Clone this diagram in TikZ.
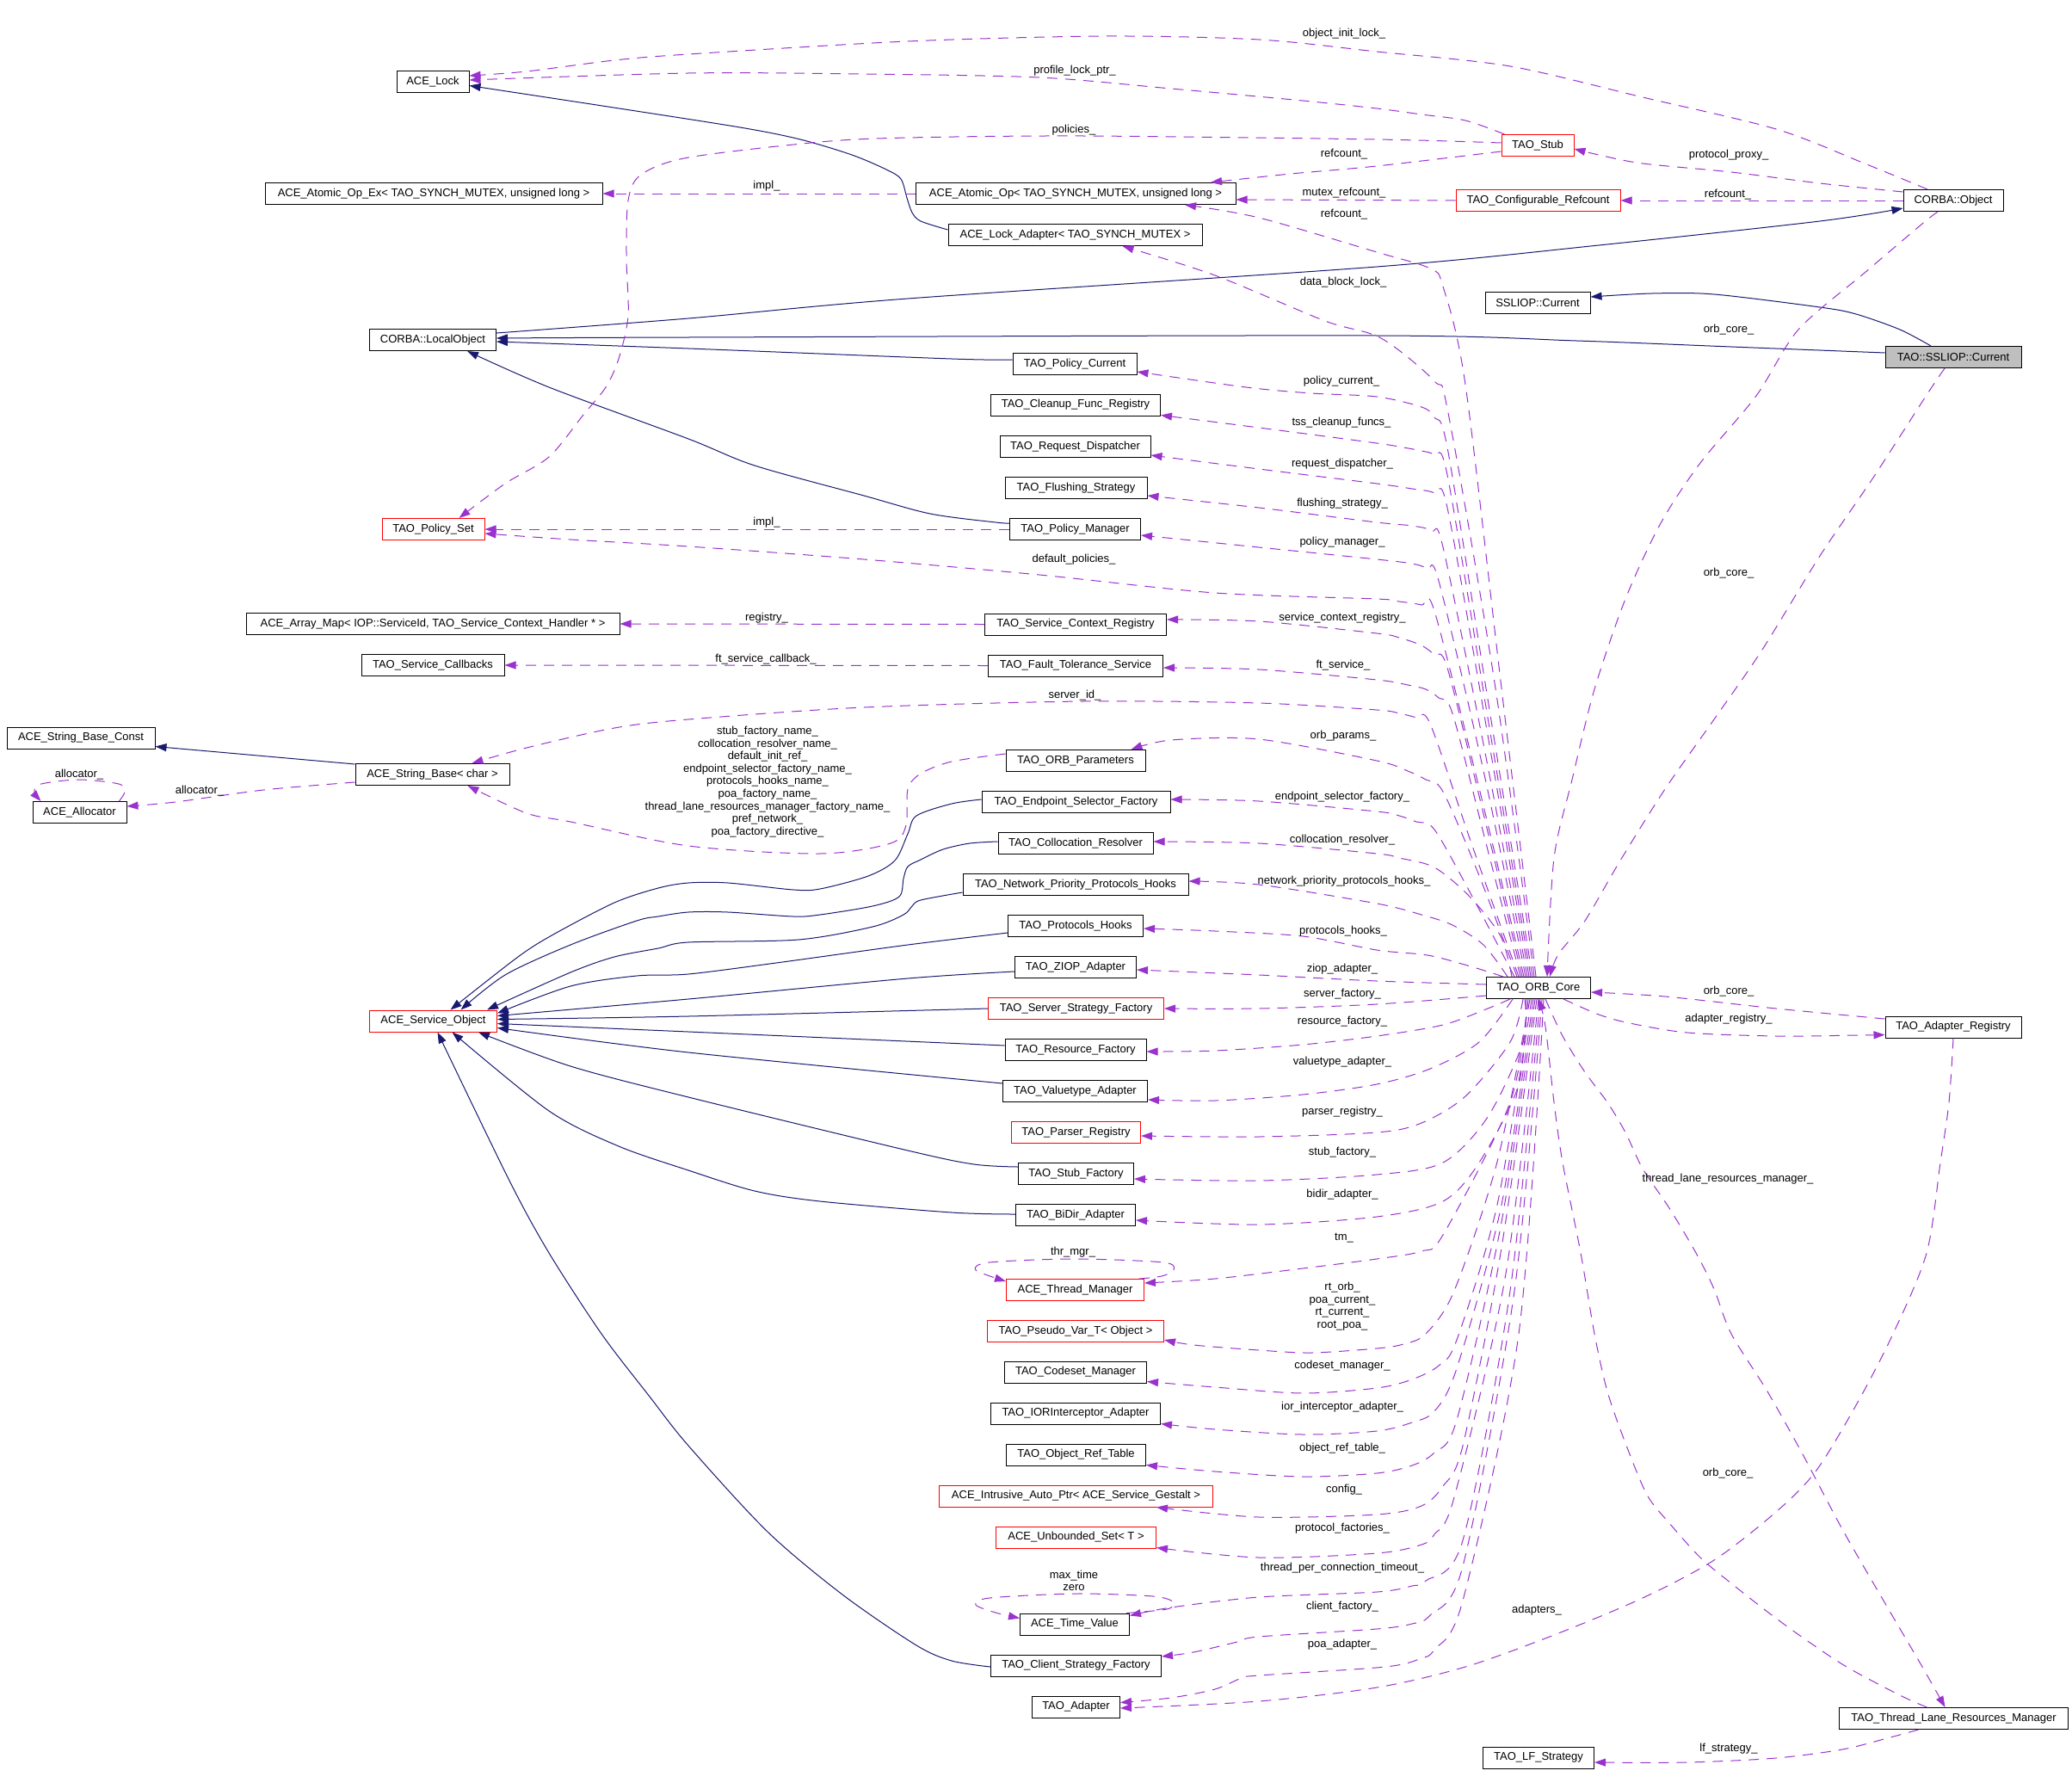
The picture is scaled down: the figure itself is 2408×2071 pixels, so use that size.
\documentclass[tikz,border=0pt]{standalone}
\usepackage{fontspec}
\setmainfont{Liberation Sans}
\usetikzlibrary{arrows.meta,calc}
\definecolor{memcol}{HTML}{9A32CD}
\definecolor{inhcol}{HTML}{191970}
\definecolor{focusgray}{HTML}{BFBFBF}
\begin{document}
\begin{tikzpicture}[x=1pt,y=-1pt,
  box/.style={draw=black, line width=1pt, minimum height=25pt, inner xsep=2pt, inner ysep=0pt, font=\fontsize{13}{15}\selectfont},
  redbox/.style={box, draw=red},
  inh/.style={draw=inhcol, line width=1pt, -{Triangle[length=13pt,width=9pt]}},
  mem/.style={draw=memcol, line width=1pt, dash pattern=on 12pt off 9pt, -{Triangle[length=13pt,width=9pt]}},
  lbl/.style={font=\fontsize{13}{14.6}\selectfont, inner sep=0pt, align=center, text=black}]
\fill[white] (0,0) rectangle (2408,2071);
\useasboundingbox (0,0) rectangle (2408,2071);

% ---------- nodes ----------
\node[box, minimum width=84pt] (lock) at (503,95.5) {ACE\_Lock};
\node[box, minimum width=392pt] (atomex) at (504,225) {ACE\_Atomic\_Op\_Ex< TAO\_SYNCH\_MUTEX, unsigned long >};
\node[box, minimum width=147pt] (localobj) at (503,395) {CORBA::LocalObject};
\node[redbox, minimum width=119pt] (pset) at (503.5,615) {TAO\_Policy\_Set};
\node[box, minimum width=434pt] (arrmap) at (503,725) {ACE\_Array\_Map< IOP::ServiceId, TAO\_Service\_Context\_Handler * >};
\node[box, minimum width=166pt] (svccb) at (503,773) {TAO\_Service\_Callbacks};
\node[box, minimum width=179pt] (strbase) at (502.5,900) {ACE\_String\_Base< char >};
\node[redbox, minimum width=148pt] (svcobj) at (503.5,1186.5) {ACE\_Service\_Object};
\node[box, minimum width=172pt] (strconst) at (94,857.5) {ACE\_String\_Base\_Const};
\node[box, minimum width=109pt] (alloc) at (92.5,944) {ACE\_Allocator};

\node[box, minimum width=372pt] (atomop) at (1250,225) {ACE\_Atomic\_Op< TAO\_SYNCH\_MUTEX, unsigned long >};
\node[box, minimum width=295pt] (lockad) at (1249.5,273) {ACE\_Lock\_Adapter< TAO\_SYNCH\_MUTEX >};
\node[box, minimum width=144pt] (pcur) at (1249,423) {TAO\_Policy\_Current};
\node[box, minimum width=197pt] (cleanup) at (1250,470.5) {TAO\_Cleanup\_Func\_Registry};
\node[box, minimum width=175pt] (reqd) at (1249.5,519) {TAO\_Request\_Dispatcher};
\node[box, minimum width=165pt] (flush) at (1250.5,567) {TAO\_Flushing\_Strategy};
\node[box, minimum width=152pt] (pman) at (1249.5,615) {TAO\_Policy\_Manager};
\node[box, minimum width=211pt] (scr) at (1250,725.5) {TAO\_Service\_Context\_Registry};
\node[box, minimum width=203pt] (fts) at (1250,773.5) {TAO\_Fault\_Tolerance\_Service};
\node[box, minimum width=162pt] (orbp) at (1250,884) {TAO\_ORB\_Parameters};
\node[box, minimum width=219pt] (esf) at (1250.5,932) {TAO\_Endpoint\_Selector\_Factory};
\node[box, minimum width=180pt] (coll) at (1250,980) {TAO\_Collocation\_Resolver};
\node[box, minimum width=262pt] (npph) at (1250,1028) {TAO\_Network\_Priority\_Protocols\_Hooks};
\node[box, minimum width=157pt] (phooks) at (1250,1076) {TAO\_Protocols\_Hooks};
\node[box, minimum width=141pt] (ziop) at (1250,1124) {TAO\_ZIOP\_Adapter};
\node[redbox, minimum width=204pt] (ssf) at (1250.5,1172) {TAO\_Server\_Strategy\_Factory};
\node[box, minimum width=164pt] (rf) at (1250,1220) {TAO\_Resource\_Factory};
\node[box, minimum width=168pt] (vta) at (1249.5,1268) {TAO\_Valuetype\_Adapter};
\node[redbox, minimum width=150pt] (preg) at (1250.5,1316) {TAO\_Parser\_Registry};
\node[box, minimum width=134pt] (stubf) at (1250.5,1364) {TAO\_Stub\_Factory};
\node[box, minimum width=139pt] (bidir) at (1250,1412) {TAO\_BiDir\_Adapter};
\node[redbox, minimum width=160pt] (thrmgr) at (1249.5,1499) {ACE\_Thread\_Manager};
\node[redbox, minimum width=205pt] (pvar) at (1250,1547) {TAO\_Pseudo\_Var\_T< Object >};
\node[box, minimum width=165pt] (codeset) at (1250,1594.5) {TAO\_Codeset\_Manager};
\node[box, minimum width=197pt] (iorint) at (1250,1642.5) {TAO\_IORInterceptor\_Adapter};
\node[box, minimum width=162pt] (ort) at (1250.5,1690.5) {TAO\_Object\_Ref\_Table};
\node[redbox, minimum width=318pt] (iap) at (1250.5,1738.5) {ACE\_Intrusive\_Auto\_Ptr< ACE\_Service\_Gestalt >};
\node[redbox, minimum width=186pt] (uset) at (1250.5,1786.5) {ACE\_Unbounded\_Set< T >};
\node[box, minimum width=127pt] (tv) at (1249,1887.5) {ACE\_Time\_Value};
\node[box, minimum width=198pt] (csf) at (1250.5,1935.5) {TAO\_Client\_Strategy\_Factory};
\node[box, minimum width=102pt] (adapter) at (1250.5,1983.5) {TAO\_Adapter};

\node[redbox, minimum width=84pt] (stub) at (1787,169) {TAO\_Stub};
\node[redbox, minimum width=191pt] (cref) at (1787.5,233) {TAO\_Configurable\_Refcount};
\node[box, minimum width=122pt] (sslcur) at (1787,352) {SSLIOP::Current};
\node[box, minimum width=121pt] (orbcore) at (1788,1148) {TAO\_ORB\_Core};
\node[box, minimum width=129pt] (lfs) at (1788,2042.5) {TAO\_LF\_Strategy};

\node[box, minimum width=116pt] (cobj) at (2270,233) {CORBA::Object};
\node[box, minimum width=158pt, fill=focusgray] (taossl) at (2270,415) {TAO::SSLIOP::Current};
\node[box, minimum width=158pt] (areg) at (2270,1193.5) {TAO\_Adapter\_Registry};
\node[box, minimum width=266pt] (tlrm) at (2270.5,1997) {TAO\_Thread\_Lane\_Resources\_Manager};

% ---------- inheritance ----------
\draw[inh] plot[smooth] coordinates {($(lockad.west)+(0,-6)$) (1070,257) (1060,247) (1054,230) (1047,208) (1030,197) (990,180) (930,162) (860,148) (700,123) ($(lock.east)+(0,4)$)};
\draw[inh] plot[smooth] coordinates {($(localobj.east)+(0,-8)$) (800,370) (1055,347) (1600,310) (1858,285) (2115,257) ($(cobj.west)+(0,9)$)};
\draw[inh] plot[smooth] coordinates {($(taossl.west)+(0,-5)$) (2012,403) (1832,396) (1600,390) (800,392) ($(localobj.east)+(0,-2)$)};
\draw[inh] plot[smooth] coordinates {($(taossl.north)+(-26,0)$) (2208,383) (2157,365) (2115,357) (1992,342) (1920,341) ($(sslcur.east)+(0,-7)$)};
\draw[inh] plot[smooth] coordinates {($(pcur.west)+(0,-5)$) (1106,417) (800,405) ($(localobj.east)+(0,2)$)};
\draw[inh] plot[smooth] coordinates {($(pman.west)+(0,-7)$) (1157,607) (1081,597) (1004,576) (877,541) (800,510) (638,450) ($(localobj.south east)+(-34,0)$)};
\draw[inh] ($(strbase.north west)+(0,1)$) -- ($(strconst.east)+(0,10)$);

\draw[inh] plot[smooth] coordinates {($(esf.west)+(0,-3)$) (1106,934) (1065,948) (1055,969) (1040,1000) (1009,1018) (953,1033) (922,1034) (846,1026) (800,1026) (765,1032) (714,1049) (643,1086) (602,1112) ($(svcobj.north)+(20,0)$)};
\draw[inh] plot[smooth] coordinates {($(coll.west)+(0,-2)$) (1127,980) (1096,987) (1070,999) (1055,1007) (1050,1021) (1045,1042) (1014,1053) (953,1063) (922,1065) (846,1060) (800,1060) (765,1065) (740,1070) (663,1098) (587,1133) ($(svcobj.north)+(32,0)$)};
\draw[inh] plot[smooth] coordinates {($(npph.west)+(0,9)$) (1070,1046) (1060,1053) (1050,1063) (1014,1077) (928,1092) (800,1095) (765,1102) (714,1112) (663,1130) ($(svcobj.north east)+(-12,0)$)};
\draw[inh] plot[smooth] coordinates {($(phooks.west)+(0,8)$) (1055,1098) (902,1119) (800,1132) (740,1134) (663,1146) ($(svcobj.east)+(0,-9)$)};
\draw[inh] plot[smooth] coordinates {($(ziop.west)+(0,5)$) (1055,1137) (800,1161) ($(svcobj.east)+(0,-6)$)};
\draw[inh] plot[smooth] coordinates {(ssf.west) (800,1181) ($(svcobj.east)+(0,-2)$)};
\draw[inh] plot[smooth] coordinates {($(rf.west)+(0,-5)$) (800,1199) ($(svcobj.east)+(0,3)$)};
\draw[inh] plot[smooth] coordinates {($(vta.west)+(0,-9)$) (800,1223) ($(svcobj.east)+(0,8)$)};
\draw[inh] plot[smooth] coordinates {($(stubf.west)+(0,-8)$) (1132,1353) (1055,1337) (800,1275) (663,1239) ($(svcobj.south east)+(-22,0)$)};
\draw[inh] plot[smooth] coordinates {($(bidir.west)+(0,-1)$) (1106,1409) (953,1396) (877,1384) (800,1360) (719,1332) (638,1291) ($(svcobj.south)+(22,0)$)};
\draw[inh] plot[smooth] coordinates {($(csf.west)+(0,1.5)$) (1106,1930) (1065,1912) (979,1853) (892,1780) (800,1680) (755,1623) (699,1550) (638,1456) (592,1372) ($(svcobj.south)+(5,0)$)};

% ---------- members, top ----------
\draw[mem] (atomop.west) -- (atomex.east);
\draw[mem] plot[smooth] coordinates {($(cobj.north)+(-30,0)$) (2167,190) (2064,150) (1909,113) (1755,77) (1600,60) (1463,46) (1285,42) (1055,48) (800,63) (714,70) (612,83) ($(lock.east)+(0,-7.5)$)};
\draw[mem] plot[smooth] coordinates {($(stub.north west)+(4,0)$) (1703,140) (1652,133) (1600,126) (1514,117) (1361,103) (1208,90) (1004,86) (800,85) ($(lock.east)+(0,-2.5)$)};
\draw[mem] plot[smooth] coordinates {($(stub.west)+(0,-3)$) (1600,162) (1259,158) (1055,160) (953,165) (800,183) (745,203) (730,233) (728,300) (730,367) (719,417) (704,450) (678,482) (638,531) (587,562) ($(pset.north)+(30,0)$)};
\draw[mem] plot[smooth] coordinates {($(stub.west)+(0,7)$) (1600,193) (1500,202) ($(atomop.north)+(157,0)$)};
\draw[mem] (cref.west) -- ($(atomop.east)+(0,7)$);
\draw[mem] (cobj.west) -- (cref.east);
\draw[mem] plot[smooth] coordinates {($(cobj.north west)+(0,3)$) (2115,213) (2012,200) (1909,190) (1858,180) ($(stub.east)+(0,4)$)};
\draw[mem] plot[smooth] coordinates {($(orbcore.north)+(-3,0)$) (1745,800) (1703,447) (1677,333) (1662,312) (1600,293) (1463,253) ($(atomop.south)+(127,0)$)};
\draw[mem] plot[smooth] coordinates {($(orbcore.north)+(-5,0)$) (1738,800) (1683,480) (1667,443) (1605,393) (1540,373) (1412,320) ($(lockad.south)+(55,0)$)};
\draw[mem] (pman.west) -- (pset.east);
\draw[mem] (scr.west) -- (arrmap.east);
\draw[mem] (fts.west) -- (svccb.east);
\draw[mem] plot[smooth] coordinates {($(strbase.west)+(0,9)$) (306,918) (204,932) ($(alloc.east)+(0,-7)$)};
\draw[mem] plot[smooth] coordinates {($(alloc.north east)+(-9,0)$) (145,920) (138,911) (92,906) (48,911) (40,920) ($(alloc.north west)+(10,0)$)};
\draw[mem] plot[smooth] coordinates {($(orbp.west)+(0,-8)$) (1106,885) (1070,899) (1055,917) (1053,959) (1035,980) (953,992) (800,983) (663,955) (612,945) ($(strbase.south east)+(-49,0)$)};

% ---------- ORB core members (upper) ----------
\draw[mem] plot[smooth] coordinates {($(orbcore.north)+(-7,0)$) (1727,800) (1682,520) (1667,485) (1652,473) (1600,461) (1524,457) (1448,450) ($(pcur.east)+(0,9)$)};
\draw[mem] plot[smooth] coordinates {($(orbcore.north)+(-9,0)$) (1730,840) (1682,552) (1667,529) (1652,524) (1631,520) (1600,515) (1463,497) ($(cleanup.east)+(0,12)$)};
\draw[mem] plot[smooth] coordinates {($(orbcore.north)+(-11,0)$) (1730,860) (1682,590) (1667,573) (1641,568) (1600,562) (1463,545) ($(reqd.east)+(0,10)$)};
\draw[mem] plot[smooth] coordinates {($(orbcore.north)+(-13,0)$) (1727,880) (1677,636) (1664,617) (1641,611) (1600,607) (1463,590) ($(flush.east)+(0,9)$)};
\draw[mem] plot[smooth] coordinates {($(orbcore.north)+(-15,0)$) (1725,900) (1672,675) (1659,661) (1641,655) (1600,650) (1463,636) ($(pman.east)+(0,7)$)};
\draw[mem] plot[smooth] coordinates {($(orbcore.north)+(-17,0)$) (1720,920) (1667,710) (1652,703) (1626,699) (1600,696) (1412,689) (1208,668) (1004,650) (800,635) (663,627) ($(pset.east)+(0,5)$)};
\draw[mem] plot[smooth] coordinates {($(orbcore.north)+(-19,0)$) (1725,950) (1682,776) (1667,761) (1652,750) (1626,741) (1600,736) (1463,722) ($(scr.east)+(0,-5.5)$)};
\draw[mem] plot[smooth] coordinates {($(orbcore.north)+(-21,0)$) (1727,980) (1688,829) (1672,811) (1657,801) (1636,796) (1600,790) (1463,778) ($(fts.east)+(0,2.5)$)};
\draw[mem] plot[smooth] coordinates {($(orbcore.north)+(-23,0)$) (1710,980) (1662,841) (1646,834) (1626,829) (1600,825) (1463,817) (1259,815) (1004,822) (800,836) (714,846) (612,869) ($(strbase.north east)+(-44,0)$)};
\draw[mem] plot[smooth] coordinates {($(orbcore.north)+(-25,0)$) (1720,1020) (1677,920) (1657,906) (1636,896) (1600,884) (1463,859) (1361,860) ($(orbp.north east)+(-17,0)$)};
\draw[mem] plot[smooth] coordinates {($(orbcore.north)+(-28,0)$) (1710,1040) (1667,964) (1646,955) (1626,948) (1600,943) (1463,931) ($(esf.east)+(0,-3)$)};
\draw[mem] plot[smooth] coordinates {($(orbcore.north)+(-31,0)$) (1744,1088) (1708,1042) (1667,1008) (1626,997) (1600,992) (1463,980) ($(coll.east)+(0,-2)$)};
\draw[mem] plot[smooth] coordinates {($(orbcore.north)+(-36,0)$) (1724,1098) (1688,1075) (1652,1063) (1600,1050) (1463,1028) ($(npph.east)+(0,-4)$)};
\draw[mem] plot[smooth] coordinates {($(orbcore.north)+(-41,0)$) (1719,1126) (1677,1114) (1652,1109) (1600,1104) (1514,1088) (1412,1082) ($(phooks.east)+(0,3)$)};
\draw[mem] plot[smooth] coordinates {($(orbcore.west)+(0,-4)$) (1600,1140) (1463,1133) ($(ziop.east)+(0,3)$)};
\draw[mem] plot[smooth] coordinates {($(orbcore.west)+(0,9)$) (1600,1167) (1463,1172) (ssf.east)};

% ---------- ORB core members (lower) ----------
\draw[mem] plot[smooth] coordinates {($(orbcore.south)+(-33,0)$) (1729,1172) (1677,1191) (1600,1204) (1514,1214) (1412,1221) ($(rf.east)+(0,2)$)};
\draw[mem] plot[smooth] coordinates {($(orbcore.south)+(-30,0)$) (1719,1211) (1662,1242) (1600,1260) (1514,1272) (1412,1279) ($(vta.east)+(0,10)$)};
\draw[mem] plot[smooth] coordinates {($(orbcore.south)+(-18,0)$) (1755,1211) (1703,1274) (1652,1305) (1600,1316) (1463,1321) ($(preg.east)+(0,4)$)};
\draw[mem] plot[smooth] coordinates {($(orbcore.south)+(-16,0)$) (1770,1211) (1729,1298) (1677,1351) (1600,1365) (1463,1372) ($(stubf.east)+(0,6)$)};
\draw[mem] plot[smooth] coordinates {($(orbcore.south)+(-14,0)$) (1765,1260) (1719,1351) (1677,1396) (1600,1414) (1463,1423) ($(bidir.east)+(0,6)$)};
\draw[mem] plot[smooth] coordinates {($(orbcore.south)+(-12,0)$) (1755,1281) (1677,1435) (1652,1454) (1600,1463) (1514,1474) (1412,1486) ($(thrmgr.east)+(0,-8)$)};
\draw[mem] plot[smooth] coordinates {($(thrmgr.north east)+(-6,0)$) (1350,1483) (1364,1476) (1352,1467) (1249,1463) (1150,1467) (1134,1476) ($(thrmgr.west)+(0,-10)$)};
\draw[mem] plot[smooth] coordinates {($(orbcore.south)+(-10,0)$) (1740,1350) (1690,1500) (1657,1550) (1631,1562) (1600,1567) (1524,1572) (1463,1569) (1387,1563) ($(pvar.east)+(0,10)$)};
\draw[mem] plot[smooth] coordinates {($(orbcore.south)+(-8,0)$) (1740,1400) (1693,1557) (1672,1587) (1641,1603) (1600,1613) (1514,1619) (1412,1612) ($(codeset.east)+(0,11)$)};
\draw[mem] plot[smooth] coordinates {($(orbcore.south)+(-6,0)$) (1745,1400) (1693,1590) (1667,1640) (1641,1653) (1600,1663) (1514,1667) (1412,1661) ($(iorint.east)+(0,12)$)};
\draw[mem] plot[smooth] coordinates {($(orbcore.south)+(-4,0)$) (1745,1420) (1693,1650) (1667,1688) (1641,1703) (1600,1712) (1514,1716) (1412,1710) ($(ort.east)+(0,12)$)};
\draw[mem] plot[smooth] coordinates {($(orbcore.south)+(-2,0)$) (1745,1450) (1700,1680) (1677,1727) (1652,1750) (1600,1760) (1463,1763) ($(iap.south east)+(-66,0)$)};
\draw[mem] plot[smooth] coordinates {(orbcore.south) (1750,1480) (1690,1740) (1667,1783) (1652,1795) (1600,1805) (1463,1810) ($(uset.east)+(0,12)$)};
\draw[mem] plot[smooth] coordinates {($(orbcore.south)+(2,0)$) (1755,1500) (1700,1790) (1657,1837) (1641,1843) (1600,1850) (1463,1856) (1361,1868) ($(tv.north east)+(0,3)$)};
\draw[mem] plot[smooth] coordinates {($(tv.north east)+(-4,0)$) (1356,1870) (1364,1862) (1340,1855) (1249,1852) (1150,1857) (1134,1865) (1157,1874) ($(tv.west)+(0,-7)$)};
\draw[mem] plot[smooth] coordinates {($(orbcore.south)+(4,0)$) (1760,1500) (1700,1820) (1662,1877) (1641,1887) (1600,1893) (1463,1902) (1438,1908) (1387,1920) ($(csf.east)+(0,-10.5)$)};
\draw[mem] plot[smooth] coordinates {($(orbcore.south)+(6,0)$) (1765,1550) (1700,1860) (1667,1917) (1652,1927) (1610,1937) (1463,1947) (1443,1950) (1412,1963) (1361,1973) ($(adapter.east)+(0,-5)$)};

% ---------- right side ----------
\draw[mem] plot[smooth] coordinates {($(cobj.south)+(-18,0)$) (2234,260) (2167,317) (2090,383) (2041,460) (1976,538) (1930,608) (1889,696) (1853,801) (1827,906) (1806,997) ($(orbcore.north)+(10,0)$)};
\draw[mem] plot[smooth] coordinates {($(taossl.south)+(-10,0)$) (2239,459) (2177,555) (2115,646) (2048,755) (1992,836) (1935,917) (1883,1000) (1842,1070) (1811,1109) ($(orbcore.north)+(13,0)$)};
\draw[mem] plot[smooth] coordinates {($(areg.west)+(0,-9.5)$) (2064,1172) (1935,1158) ($(orbcore.east)+(0,5)$)};
\draw[mem] plot[smooth] coordinates {($(orbcore.south east)+(-32,0)$) (1858,1179) (1894,1189) (1961,1200) (2064,1204) (2162,1203) ($(areg.west)+(0,9)$)};
\draw[mem] plot[smooth] coordinates {(areg.south) (2265,1281) (2255,1351) (2239,1456) (2200,1550) (2157,1633) (2110,1710) (2064,1757) (1992,1813) (1909,1857) (1806,1900) (1703,1937) (1600,1961) (1463,1977) ($(adapter.east)+(0,1.5)$)};
\draw[mem] plot[smooth] coordinates {($(orbcore.south)+(8,0)$) (1816,1204) (1842,1246) (1868,1281) (1889,1316) (1909,1358) (1940,1404) (1971,1456) (1992,1498) (2012,1550) (2054,1617) (2095,1690) (2141,1777) (2193,1867) (2234,1937) ($(tlrm.north)+(-10,0)$)};
\draw[mem] plot[smooth] coordinates {($(tlrm.north)+(-31,0)$) (2208,1970) (2146,1937) (2095,1903) (2054,1873) (2012,1840) (1976,1810) (1940,1770) (1914,1737) (1889,1677) (1868,1617) (1853,1550) (1837,1456) (1816,1351) (1806,1281) (1796,1193) (orbcore.south)};
\draw[mem] plot[smooth] coordinates {($(tlrm.south)+(-41,0)$) (2193,2020) (2141,2033) (2064,2043) (1961,2048) ($(lfs.east)+(0,5.5)$)};

% ---------- labels ----------
\node[lbl] (L01) at (1562,39) {object\_init\_lock\_};
\node[lbl] (L02) at (1249,82) {profile\_lock\_ptr\_};
\node[lbl] (L03) at (1248,151) {policies\_};
\node[lbl] (L04) at (891,216) {impl\_};
\node[lbl] (L05) at (1562,179) {refcount\_};
\node[lbl] (L06) at (2009,180) {protocol\_proxy\_};
\node[lbl] (L07) at (1562,224) {mutex\_refcount\_};
\node[lbl] (L08) at (2008,226) {refcount\_};
\node[lbl] (L09) at (1562,249) {refcount\_};
\node[lbl] (L10) at (1561,328) {data\_block\_lock\_};
\node[lbl] (L11) at (2009,383) {orb\_core\_};
\node[lbl] (L12) at (1559,443) {policy\_current\_};
\node[lbl] (L13) at (1559,491) {tss\_cleanup\_funcs\_};
\node[lbl] (L14) at (1560,539) {request\_dispatcher\_};
\node[lbl] (L15) at (1560,585) {flushing\_strategy\_};
\node[lbl] (L16) at (891,607) {impl\_};
\node[lbl] (L17) at (1560,630) {policy\_manager\_};
\node[lbl] (L18) at (1248,650) {default\_policies\_};
\node[lbl] (L19) at (2009,666) {orb\_core\_};
\node[lbl] (L20) at (891,718) {registry\_};
\node[lbl] (L21) at (1560,718) {service\_context\_registry\_};
\node[lbl] (L22) at (890,766) {ft\_service\_callback\_};
\node[lbl] (L23) at (1561,773) {ft\_service\_};
\node[lbl] (L24) at (1249,808) {server\_id\_};
\node[lbl] (L25) at (1561,855) {orb\_params\_};
\node[lbl] (L26) at (892,908.5) {stub\_factory\_name\_\\collocation\_resolver\_name\_\\default\_init\_ref\_\\endpoint\_selector\_factory\_name\_\\protocols\_hooks\_name\_\\poa\_factory\_name\_\\thread\_lane\_resources\_manager\_factory\_name\_\\pref\_network\_\\poa\_factory\_directive\_};
\node[lbl] (L27) at (92,900) {allocator\_};
\node[lbl] (L28) at (232,919) {allocator\_};
\node[lbl] (L29) at (1560,926) {endpoint\_selector\_factory\_};
\node[lbl] (L30) at (1560,976) {collocation\_resolver\_};
\node[lbl] (L31) at (1562,1024) {network\_priority\_protocols\_hooks\_};
\node[lbl] (L32) at (1561,1082) {protocols\_hooks\_};
\node[lbl] (L33) at (1560,1126) {ziop\_adapter\_};
\node[lbl] (L34) at (1560,1155) {server\_factory\_};
\node[lbl] (L35) at (2009,1152) {orb\_core\_};
\node[lbl] (L36) at (2009,1184) {adapter\_registry\_};
\node[lbl] (L37) at (1560,1187) {resource\_factory\_};
\node[lbl] (L38) at (1560,1234) {valuetype\_adapter\_};
\node[lbl] (L39) at (1560,1292) {parser\_registry\_};
\node[lbl] (L40) at (1560,1339) {stub\_factory\_};
\node[lbl] (L41) at (2008,1370) {thread\_lane\_resources\_manager\_};
\node[lbl] (L42) at (1560,1388) {bidir\_adapter\_};
\node[lbl] (L43) at (1562,1439) {tm\_};
\node[lbl] (L44) at (1247,1455) {thr\_mgr\_};
\node[lbl] (L45) at (1560,1518) {rt\_orb\_\\poa\_current\_\\rt\_current\_\\root\_poa\_};
\node[lbl] (L46) at (1560,1587) {codeset\_manager\_};
\node[lbl] (L47) at (1560,1635) {ior\_interceptor\_adapter\_};
\node[lbl] (L48) at (1560,1683) {object\_ref\_table\_};
\node[lbl] (L49) at (2008,1712) {orb\_core\_};
\node[lbl] (L50) at (1562,1731) {config\_};
\node[lbl] (L51) at (1560,1776) {protocol\_factories\_};
\node[lbl] (L52) at (1560,1822) {thread\_per\_connection\_timeout\_};
\node[lbl] (L53) at (1248,1837) {max\_time\\zero};
\node[lbl] (L54) at (1560,1867) {client\_factory\_};
\node[lbl] (L55) at (1786,1871) {adapters\_};
\node[lbl] (L56) at (1560,1911) {poa\_adapter\_};
\node[lbl] (L57) at (2009,2032) {lf\_strategy\_};
\end{tikzpicture}
\end{document}
